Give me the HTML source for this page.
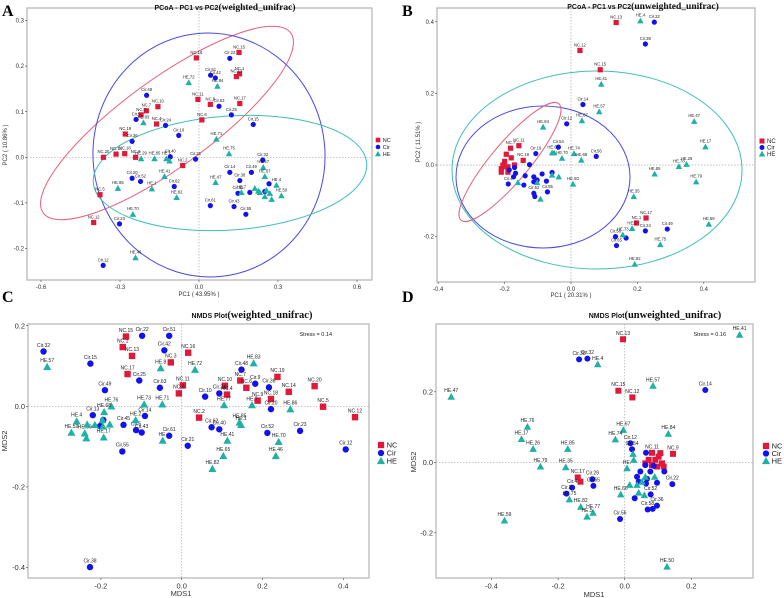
<!DOCTYPE html>
<html><head><meta charset="utf-8"><style>
html,body{margin:0;padding:0;background:#fff;}
svg{display:block;font-family:"Liberation Sans",sans-serif;}
</style></head><body>
<svg id="fig" width="784" height="598" viewBox="0 0 784 598" xmlns="http://www.w3.org/2000/svg"></svg>
<script>
// ---------- DATA ----------
// Panel A (PCoA weighted)
const aNC=[[0.152,0.23,'NC.15'],[-0.01,0.218,'NC.16'],[0.154,0.183,'NC.1'],[0.142,0.177,'NC.13'],[-0.004,0.127,'NC.11'],[0.043,0.116,'NC.8'],[0.155,0.118,'NC.17'],[-0.156,0.111,'NC.10'],[-0.2,0.102,'NC.7'],[-0.22,0.093,'NC.3'],[-0.161,0.073,'NC.4'],[0.011,0.082,'NC.6'],[-0.28,0.051,'NC.19'],[-0.363,0,'NC.20'],[-0.315,0.007,'NC.14'],[-0.282,0.008,'NC.18'],[-0.241,0,'NC.9'],[-0.062,-0.018,'NC.2'],[-0.376,-0.082,'NC.5'],[-0.4,-0.143,'NC.12']];
const aCir=[[0.117,0.217,'Cir.22'],[0.044,0.18,'Cir.51'],[0.062,0.174,'Cir.42'],[-0.199,0.136,'Cir.48'],[0.076,0.112,'Cir.63'],[0.123,0.093,'Cir.25'],[0.206,0.072,'Cir.15'],[-0.239,0.083,'Cir.9'],[-0.127,0.07,'Cir.24'],[-0.077,0.048,'Cir.10'],[-0.254,0.035,'Cir.36'],[-0.109,0.001,'Cir.40'],[-0.013,-0.004,'Cir.21'],[0.242,-0.006,'Cir.32'],[0.117,-0.033,'Cir.14'],[0.199,-0.033,'Cir.49'],[0.155,-0.051,'Cir.38'],[-0.254,-0.046,'Cir.20'],[-0.222,-0.053,'Cir.52'],[-0.094,-0.064,'Cir.62'],[0.266,-0.058,''],[0.148,-0.079,'Cir.65'],[0.193,-0.077,''],[0.25,-0.075,''],[0.043,-0.106,'Cir.61'],[0.133,-0.108,'Cir.43'],[0.178,-0.125,'Cir.55'],[-0.302,-0.146,'Cir.23'],[-0.364,-0.237,'Cir.12']];
const aHE=[[-0.039,0.164,'HE.72'],[0.07,0.156,'HE.84'],[-0.211,0.076,'HE.83'],[0.066,0.04,'HE.71'],[0.114,0.008,'HE.75'],[-0.22,-0.003,'HE.29'],[-0.169,-0.003,'HE.85'],[-0.124,-0.003,'HE.1'],[-0.112,-0.008,''],[0.244,-0.022,'HE.57'],[0.25,-0.042,'HE.67'],[-0.131,-0.042,'HE.41'],[0.063,-0.055,'HE.47'],[-0.179,-0.069,'HE.1'],[-0.308,-0.068,'HE.86'],[-0.085,-0.088,'HE.82'],[-0.251,-0.125,'HE.70'],[-0.241,-0.22,'HE.46'],[0.294,-0.061,'HE.4'],[0.313,-0.084,'HE.50'],[0.161,-0.077,'HE.7'],[0.212,-0.068,''],[0.231,-0.077,''],[0.25,-0.086,''],[0.276,-0.092,''],[0.269,-0.079,''],[0.225,-0.074,''],[0.256,-0.072,'']];
// Panel B (PCoA unweighted)
const bNC=[[0.136,0.398,'NC.13'],[0.027,0.32,'NC.12'],[0.088,0.266,'NC.15'],[-0.157,0.054,'NC.11'],[-0.182,0.047,'NC.7'],[-0.144,0.013,'NC.19'],[0.226,-0.148,'NC.17'],[0.197,-0.162,'NC.1'],[-0.2,0.01,''],[-0.21,-0.01,''],[-0.205,0,''],[-0.19,-0.005,''],[-0.18,0.02,''],[-0.21,-0.02,''],[-0.19,-0.02,''],[-0.195,0.03,''],[-0.17,0,''],[-0.2,-0.005,'']];
const bCir=[[0.251,0.399,'Cir.32'],[0.224,0.338,'Cir.38'],[0.036,0.169,'Cir.14'],[-0.013,0.115,'Cir.12'],[-0.038,0.05,'Cir.54'],[-0.106,0.032,'Cir.19'],[0.076,0.024,'Cir.56'],[0.29,-0.179,'Cir.49'],[0.224,-0.184,'Cir.24'],[0.134,-0.2,'Cir.58'],[0.137,-0.225,'Cir.65'],[0.166,-0.204,''],[-0.189,-0.053,'Cir.4'],[-0.17,-0.007,''],[-0.186,-0.014,''],[-0.173,-0.033,''],[-0.138,-0.03,''],[-0.125,0.001,''],[-0.142,-0.056,''],[-0.112,-0.047,''],[-0.112,-0.033,''],[-0.102,-0.042,''],[-0.087,-0.025,''],[-0.074,-0.045,''],[-0.071,-0.075,'Cir.55'],[-0.112,-0.079,'Cir.52'],[-0.109,-0.088,''],[-0.167,-0.023,''],[-0.057,-0.021,'']];
const bHE=[[0.209,0.403,'HE.4'],[0.091,0.226,'HE.41'],[0.085,0.149,'HE.57'],[0.033,0.124,'HE.67'],[-0.084,0.106,'HE.84'],[0.371,0.122,'HE.47'],[0.405,0.051,'HE.17'],[-0.057,0.034,'HE.6'],[-0.051,0.034,''],[0.009,0.032,'HE.74'],[-0.027,0.019,'HE.70'],[0.031,0.014,'HE.68'],[0.348,0.002,'HE.26'],[0.325,-0.004,'HE.78'],[0.252,-0.025,'HE.85'],[0.377,-0.047,'HE.79'],[0.006,-0.053,'HE.50'],[0.189,-0.088,'HE.35'],[0.415,-0.165,'HE.59'],[0.184,-0.177,'HE.5'],[0.156,-0.195,'HE.73'],[0.269,-0.222,'HE.75'],[0.192,-0.277,'HE.82'],[-0.16,-0.049,''],[-0.102,-0.049,''],[-0.092,-0.095,''],[-0.057,-0.028,''],[-0.037,-0.033,'']];
// Panel C (NMDS weighted)
const cNC=[[-0.138,0.173,'NC.15'],[-0.146,0.147,'NC.1'],[-0.123,0.125,'NC.13'],[0.016,0.133,'NC.16'],[-0.027,0.109,'NC.3'],[-0.134,0.08,'NC.17'],[0.003,0.052,'NC.11'],[-0.007,0.032,'NC.8'],[0.107,0.051,'NC.10'],[0.145,0.064,'NC.7'],[0.16,0.046,'NC.6'],[0.112,0.029,'NC.4'],[0.237,0.073,'NC.19'],[0.265,0.036,'NC.14'],[0.329,0.05,'NC.20'],[0.188,0.014,'NC.9'],[0.221,0.018,'NC.18'],[0.35,-0.001,'NC.5'],[0.429,-0.027,'NC.12'],[0.043,-0.028,'NC.2']];
const cCir=[[-0.342,0.136,'Cir.32'],[-0.226,0.106,'Cir.15'],[-0.098,0.175,'Cir.22'],[-0.031,0.175,'Cir.51'],[-0.043,0.139,'Cir.42'],[-0.105,0.064,'Cir.25'],[-0.054,0.046,'Cir.63'],[-0.19,0.04,'Cir.49'],[0.148,0.091,'Cir.48'],[0.182,0.056,'Cir.9'],[0.216,0.047,'Cir.36'],[0.058,0.024,'Cir.10'],[0.093,0.032,'Cir.24'],[0.221,-0.007,'Cir.20'],[-0.22,-0.022,'Cir.13'],[-0.091,-0.024,'Cir.14'],[-0.144,-0.046,'Cir.45'],[-0.113,-0.059,'Cir.5'],[-0.099,-0.065,'Cir.43'],[0.074,-0.052,'Cir.62'],[0.093,-0.057,'Cir.40'],[0.212,-0.066,'Cir.52'],[0.293,-0.061,'Cir.23'],[-0.031,-0.073,'Cir.61'],[0.015,-0.098,'Cir.21'],[0.406,-0.107,'Cir.12'],[-0.147,-0.112,'Cir.55'],[-0.227,-0.399,'Cir.38'],[-0.202,-0.049,''],[-0.194,-0.034,'']];
const cHE=[[-0.333,0.098,'HE.57'],[-0.052,0.095,'HE.8'],[0.033,0.091,'HE.72'],[0.178,0.107,'HE.83'],[-0.174,0,'HE.76'],[-0.093,0.005,'HE.73'],[-0.048,0.005,'HE.71'],[0.105,0.003,'HE.77'],[0.174,0.003,'HE.7'],[0.269,-0.007,'HE.86'],[-0.192,-0.014,'HE.68'],[-0.114,-0.034,'HE.2'],[0.143,-0.04,'HE.85'],[0.147,-0.046,'HE.1'],[0.113,-0.085,'HE.41'],[0.24,-0.088,'HE.70'],[-0.047,-0.085,'HE.'],[0.103,-0.123,'HE.65'],[0.233,-0.123,'HE.46'],[0.076,-0.155,'HE.82'],[-0.26,-0.037,'HE.4'],[-0.273,-0.065,'HE.59'],[-0.24,-0.067,'HE.69'],[-0.193,-0.077,'HE.17'],[-0.236,-0.079,''],[-0.234,-0.045,''],[-0.215,-0.046,''],[-0.195,-0.05,''],[-0.178,-0.045,''],[-0.196,-0.034,'']];
// Panel D (NMDS unweighted)
const dNC=[[-0.005,0.349,'NC.13'],[-0.019,0.203,'NC.15'],[0.023,0.184,'NC.12'],[0.145,0.024,'NC.9'],[-0.141,-0.043,'NC.17'],[-0.133,-0.055,''],[0.082,0.027,'NC.11'],[0.102,0.016,''],[0.092,0.007,''],[0.112,-0.003,''],[0.072,0.007,''],[0.117,-0.012,''],[0.097,-0.012,''],[0.062,-0.003,''],[0.107,0.026,''],[0.082,-0.008,'']];
const dCir=[[-0.137,0.292,'Cir.38'],[-0.112,0.294,'Cir.32'],[0.242,0.205,'Cir.14'],[0.017,0.054,'Cir.12'],[0.022,0.037,'Cir.54'],[0.064,0.027,''],[0.143,-0.062,'Cir.22'],[-0.097,-0.048,'Cir.29'],[-0.094,-0.067,'Cir.65'],[-0.158,-0.072,'Cir.4'],[-0.175,-0.089,'Cir.3'],[-0.014,-0.161,'Cir.56'],[0.097,-0.123,'Cir.36'],[0.069,-0.134,'Cir.58'],[0.084,-0.132,''],[0.03,-0.102,''],[0.078,-0.091,'Cir.52'],[0.037,-0.041,''],[0.047,-0.026,''],[0.062,-0.008,''],[0.077,-0.026,''],[0.087,-0.01,''],[0.119,-0.026,''],[0.097,-0.058,''],[0.064,-0.06,''],[0.042,-0.055,''],[0.067,-0.047,'']];
const dHE=[[0.345,0.362,'HE.41'],[-0.081,0.278,'HE.4'],[0.085,0.217,'HE.57'],[-0.521,0.186,'HE.47'],[-0.292,0.101,'HE.76'],[0.131,0.081,'HE.84'],[-0.004,0.092,'HE.67'],[-0.31,0.066,'HE.17'],[-0.028,0.065,'HE.74'],[-0.275,0.038,'HE.26'],[-0.171,0.038,'HE.85'],[-0.253,-0.012,'HE.79'],[-0.177,-0.014,'HE.35'],[0.025,0.024,''],[0.027,0.007,''],[0.007,-0.017,'HE.'],[-0.012,-0.091,'HE.66'],[-0.166,-0.105,'HE.75'],[-0.132,-0.126,'HE.82'],[-0.095,-0.143,'HE.77'],[-0.113,-0.154,'HE.5'],[-0.361,-0.165,'HE.59'],[0.127,-0.296,'HE.50'],[0.015,-0.064,''],[0.037,-0.064,''],[0.052,-0.055,''],[0.059,-0.093,''],[0.042,-0.086,''],[0.09,-0.041,''],[0.062,-0.041,'']];
// ticks
const aXT=[-0.6,-0.3,0,0.3,0.6], aYT=[-0.2,-0.1,0,0.1,0.2,0.3];
const bXT=[-0.4,-0.2,0,0.2,0.4], bYT=[-0.2,0,0.2,0.4];
const cXT=[-0.2,0,0.2,0.4], cYT=[-0.4,-0.2,0,0.2];
const dXT=[-0.4,-0.2,0,0.2], dYT=[-0.2,0,0.2];
const groups=['NC','Cir','HE'];

// ---------- RENDER ----------
const NS='http://www.w3.org/2000/svg';
const svg=document.getElementById('fig');
const COL={NC:'#e0183a',Cir:'#1212ee',HE:'#1fb0a6'};
function mk(tag,attrs,parent){const e=document.createElementNS(NS,tag);for(const k in attrs)e.setAttribute(k,attrs[k]);(parent||svg).appendChild(e);return e;}
function txt(s,x,y,size,opts,parent){const t=mk('text',Object.assign({x:x,y:y,'font-size':size},opts||{}),parent);t.textContent=s;return t;}

const panels=[
 {id:'a',l:27,t:8,r:372,b:280,x0:199,xs:263.3,y0:157.3,ys:456,xt:aXT,yt:aYT,fmt:1,tf:6,ms:2.6,ls:4.2,data:[aNC,aCir,aHE],
  ell:[[167,123,153,44,-36,'#e8607a'],[209,155,116,122,-5,'#4848e8'],[230,173,137,57,-4,'#3cbfb6']],
  letter:['A',2,16],title:['PCoA - PC1 vs PC2','(weighted_unifrac)',225,10],
  xl:['PC1 ( 43.95% )',199,296],yl:['PC2 ( 10.86% )',7,145],leg:[378,140,7,5.5]},
 {id:'b',l:437,t:8,r:755,b:282,x0:571,xs:332,y0:165,ys:358,xt:bXT,yt:bYT,fmt:1,tf:6,ms:2.6,ls:4.2,data:[bNC,bCir,bHE],
  ell:[[597,170,145,99,0,'#3cbfb6'],[543,177,87,71,0,'#4848e8'],[510,162,76,19,-50,'#e8607a']],
  letter:['B',402,16],title:['PCoA - PC1 vs PC2','(unweighted_unifrac)',643,9],
  xl:['PC1 ( 20.31% )',571,297],yl:['PC2 ( 11.51% )',420,142],leg:[762,141,6.5,6]},
 {id:'c',l:28,t:324,r:369,b:578,x0:181.7,xs:404,y0:406.3,ys:403,xt:cXT,yt:cYT,fmt:1,tf:7.5,ms:3.2,ls:5,data:[cNC,cCir,cHE],
  ell:[],stress:['Stress = 0.14',332,336],
  letter:['C',2,302],title:['NMDS Plot','(weighted_unifrac)',252,318],
  xl:['MDS1',181,596],yl:['MDS2',7,441],leg:[381,445,8,7.5]},
 {id:'d',l:436,t:324,r:753,b:578,x0:624.7,xs:333,y0:462.3,ys:352.5,xt:dXT,yt:dYT,fmt:1,tf:7.5,ms:3,ls:5,data:[dNC,dCir,dHE],
  ell:[],stress:['Stress = 0.16',726,336],
  letter:['D',402,302],title:['NMDS Plot','(unweighted_unifrac)',655,318],
  xl:['MDS1',594,597],yl:['MDS2',416,462],leg:[766,446,7.5,7.5]}
];

panels.forEach(p=>{
  const g=mk('g',{});
  
  
  const X=v=>p.x0+v*p.xs, Y=v=>p.y0-v*p.ys;
  // frame
  const fr=mk('rect',{x:p.l,y:p.t,width:p.r-p.l,height:p.b-p.t,fill:'#fff',stroke:'#b8b8b8','stroke-width':1.3},g);
  
  
  // zero lines
  mk('line',{x1:X(0),x2:X(0),y1:p.t,y2:p.b,stroke:'#aaa','stroke-width':0.7,'stroke-dasharray':'1.5,1.5'},g);
  mk('line',{x1:p.l,x2:p.r,y1:Y(0),y2:Y(0),stroke:'#aaa','stroke-width':0.7,'stroke-dasharray':'1.5,1.5'},g);
  // ticks
  p.xt.forEach(v=>{mk('line',{x1:X(v),x2:X(v),y1:p.b,y2:p.b+2,stroke:'#444','stroke-width':0.6},g);
    const t=txt(v===0?'0.0':v.toFixed(1),X(v),p.b+3+p.tf,p.tf,{'text-anchor':'middle',fill:'#333'},g);
    
    });
  p.yt.forEach(v=>{mk('line',{x1:p.l-2,x2:p.l,y1:Y(v),y2:Y(v),stroke:'#444','stroke-width':0.6},g);
    const t=txt(v===0?'0.0':v.toFixed(1),p.l-3,Y(v)+p.tf*0.35,p.tf,{'text-anchor':'end',fill:'#333'},g);
    
    });
  // ellipses
  p.ell.forEach((e,i)=>{const el=mk('ellipse',{cx:e[0],cy:e[1],rx:e[2],ry:e[3],transform:`rotate(${e[4]} ${e[0]} ${e[1]})`,fill:'none',stroke:e[5],'stroke-width':1},g);
    
    });
  // points
  p.data.forEach((arr,gi)=>{
    const grp=groups[gi], c=COL[grp], s=p.ms;
    arr.forEach(d=>{
      const x=X(d[0]), y=Y(d[1]); let m;
      if(grp==='NC') m=mk('rect',{x:x-s,y:y-s,width:2*s,height:2*s,fill:c},g);
      else if(grp==='Cir') m=mk('circle',{cx:x,cy:y,r:s,fill:c},g);
      else m=mk('polygon',{points:`${x},${y-s*1.25} ${x-s*1.25},${y+s} ${x+s*1.25},${y+s}`,fill:c},g);
      
      
      if(d[2]){const t=txt(d[2],x,y-s-1.5,p.ls,{'text-anchor':'middle',fill:'#222'},g);
        
        }
    });
  });
  // stress
  if(p.stress){const t=txt(p.stress[0],p.stress[1],p.stress[2],5.5,{'text-anchor':'end',fill:'#222'},g);
    
    }
  // letter
  const L=txt(p.letter[0],p.letter[1],p.letter[2],16,{'font-family':'"Liberation Serif",serif','font-weight':'bold'},g);
  
  
  // title
  const T=mk('text',{x:p.title[2],y:p.title[3],'text-anchor':'middle','font-weight':'bold',fill:'#111'},g);
  
  
  const t1=mk('tspan',{'font-size':7},T);t1.textContent=p.title[0];
  const t2=mk('tspan',{'font-size':p.id<'c'?9.5:10.5,'font-family':'"Liberation Serif",serif'},T);t2.textContent=p.title[1];
  // axis titles
  const xl=txt(p.xl[0],p.xl[1],p.xl[2],p.tf,{'text-anchor':'middle',fill:'#333'},g);
  
  
  const yl=txt(p.yl[0],p.yl[1],p.yl[2],p.tf,{'text-anchor':'middle',fill:'#333',transform:`rotate(-90 ${p.yl[1]} ${p.yl[2]})`},g);
  
  
  // legend
  const [lx,ly,step,fs]=p.leg;
  groups.forEach((grp,i)=>{
    const y=ly+i*step, c=COL[grp], s=fs*0.42; let m;
    if(grp==='NC') m=mk('rect',{x:lx-s,y:y-s,width:2*s,height:2*s,fill:c});
    else if(grp==='Cir') m=mk('circle',{cx:lx,cy:y,r:s,fill:c});
    else m=mk('polygon',{points:`${lx},${y-s*1.3} ${lx-s*1.3},${y+s} ${lx+s*1.3},${y+s}`,fill:c});
    
    
    const t=txt(grp,lx+s+2.5,y+fs*0.36,fs,{fill:'#222'});
    
    
  });
});
</script>
</body></html>
